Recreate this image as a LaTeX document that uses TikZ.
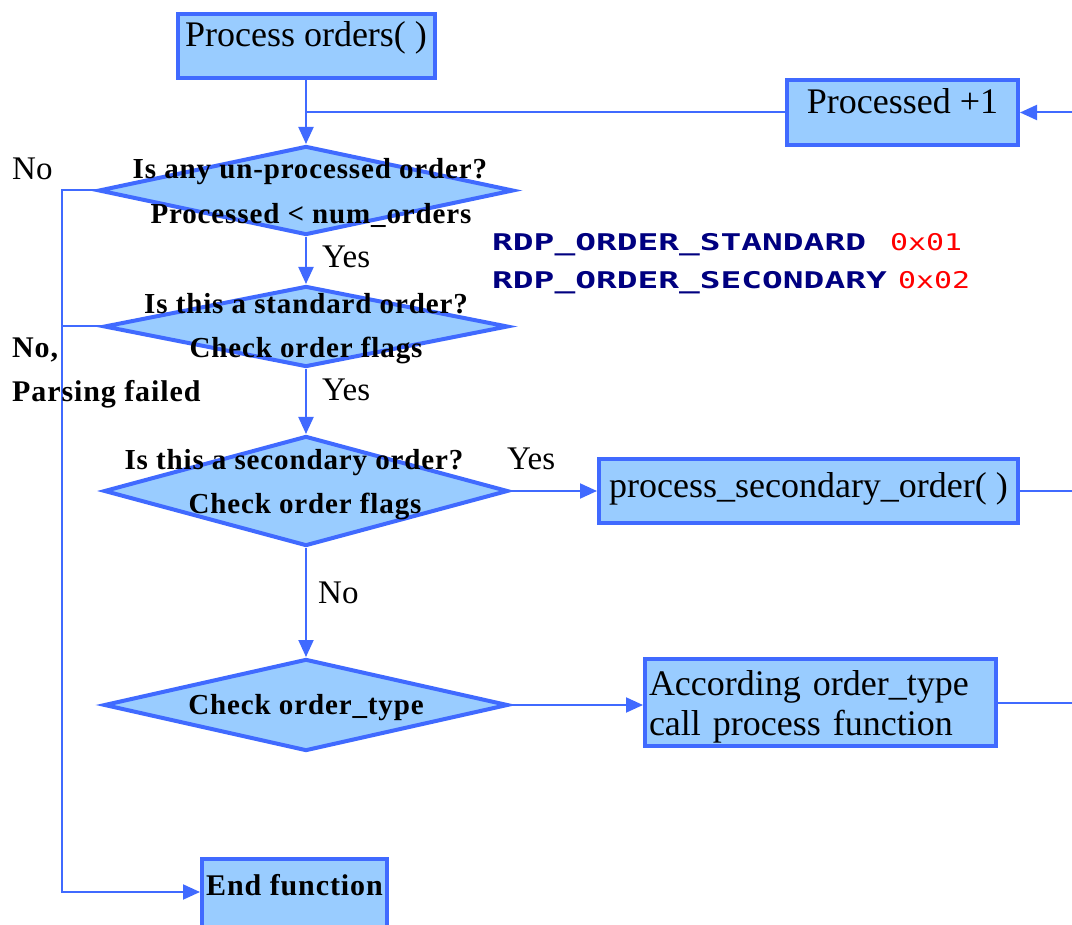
\documentclass[tikz,border=0pt]{standalone}
\usepackage{fontspec}
\setmainfont{Liberation Serif}
\newfontfamily\boldspaced[LetterSpace=3]{Liberation Serif}
\newfontfamily\codefont[FakeStretch=1.5]{DejaVu Sans Mono}
\newfontfamily\hexfont[FakeStretch=1.3]{DejaVu Sans Mono}
\usetikzlibrary{arrows.meta,shapes.geometric}
\definecolor{edgeblue}{RGB}{64,106,255}
\definecolor{boxfill}{RGB}{153,204,255}
\definecolor{flagnavy}{RGB}{0,0,128}
\definecolor{hexred}{RGB}{255,0,0}
\tikzset{
  x=1pt, y=-1pt,
  box/.style={draw=edgeblue, fill=boxfill, line width=4pt, inner sep=0pt,
              font=\fontsize{36}{40}\selectfont},
  dia/.style={diamond, draw=edgeblue, fill=boxfill, line width=4pt, inner sep=0pt},
  dtext/.style={anchor=base, inner sep=0pt, font=\boldspaced\bfseries\fontsize{29}{34}\selectfont},
  lbl/.style={anchor=base west, inner sep=0pt, font=\fontsize{33}{38}\selectfont},
  blbl/.style={anchor=base west, inner sep=0pt, font=\boldspaced\bfseries\fontsize{30}{36}\selectfont},
  line/.style={draw=edgeblue, line width=2pt},
  arr/.style={line, -{Triangle[length=17pt,width=15pt]}},
  flag/.style={anchor=base west, inner sep=0pt, text=flagnavy,
               font=\codefont\bfseries\fontsize{23}{26}\selectfont},
  hexv/.style={anchor=base west, inner sep=0pt, text=hexred,
               font=\hexfont\fontsize{23}{26}\selectfont},
}
\begin{document}
\begin{tikzpicture}
\clip (0,0) rectangle (1072,925);
\fill[white] (0,0) rectangle (1072,925);

% free ends of the connectors
\coordinate (rail) at (62,0);
\coordinate (redge) at (1072,0);
\coordinate (rin) at (1072,112.5);

% boxes
\node[box, minimum width=257, text height=33, text depth=31] (po) at (306,46) {Process orders( )};
\node[box, minimum width=231, text height=34, text depth=31] (p1) at (902.5,112.5) {Processed +1};
\node[box, minimum width=419, text height=38, text depth=26] (ps) at (808.5,491) {process\_secondary\_order( )\hspace{8pt}};
\node[box, text width=343, inner xsep=4pt, align=left, text height=36, text depth=51] (ac) at (820.5,702.5)
  {According order\_type\\call process function};
\node[box, minimum width=185, text height=36, text depth=43, font=\boldspaced\bfseries\fontsize{30}{36}\selectfont] (endf) at (294.5,898.5) {End function};

% decisions
\node[dia, minimum width=415, minimum height=89]  (d1) at (306,190.5) {};
\node[dia, minimum width=404, minimum height=81]  (d2) at (306,326.5) {};
\node[dia, minimum width=404, minimum height=110] (d3) at (306,491) {};
\node[dia, minimum width=404, minimum height=92]  (d4) at (306,705) {};

% connectors
\draw[arr] (po.south) -- (d1.north);
\draw[line] (p1.west) -- (p1.west -| po.south);
\draw[arr] (rin) -- (p1.east);
\draw[arr] (d1.south) -- (d2.north);
\draw[arr] (d2.south) -- (d3.north);
\draw[arr] (d3.south) -- (d4.north);
\draw[arr] (d3.east) -- (ps.west);
\draw[arr] (d4.east) -- (d4.east -| ac.west);
\draw[line] (ps.east) -- (ps.east -| redge);
\draw[line] (ac.east) -- (ac.east -| redge);
\draw[arr] (d1.west) -- (d1.west -| rail) |- ([yshift=6.5pt]endf.west);
\draw[line] (d2.west) -- (d2.west -| rail);

% decision texts
\node[dtext] (t1a) at (310,179) {Is any un-processed order?};
\node[dtext] (t1b) at (311,224) {Processed < num\_orders};
\node[dtext] (t2a) at (306,314) {Is this a standard order?};
\node[dtext] (t2b) at (306,358) {Check order flags};
\node[dtext] (t3a) at (294,470) {Is this a secondary order?};
\node[dtext] (t3b) at (305,514) {Check order flags};
\node[dtext] (t4)  at (306,714) {Check order\_type};

% branch labels
\node[lbl]  (no1)  at (12,180)  {No};
\node[lbl]  (yes1) at (322,268) {Yes};
\node[lbl]  (yes2) at (322,401) {Yes};
\node[lbl]  (yes3) at (507,469) {Yes};
\node[lbl]  (no3)  at (318,603) {No};
\node[blbl] (no2)  at (12,358)  {No,};
\node[blbl] (fail) at (12,402)  {Parsing failed};

% order flag values
\node[flag] (fstd) at (492,251) {RDP\_ORDER\_STANDARD};
\node[hexv] (vstd) at (890,251) {0x01};
\node[flag] (fsec) at (492,289) {RDP\_ORDER\_SECONDARY};
\node[hexv] (vsec) at (898,289) {0x02};
\end{tikzpicture}
\end{document}
